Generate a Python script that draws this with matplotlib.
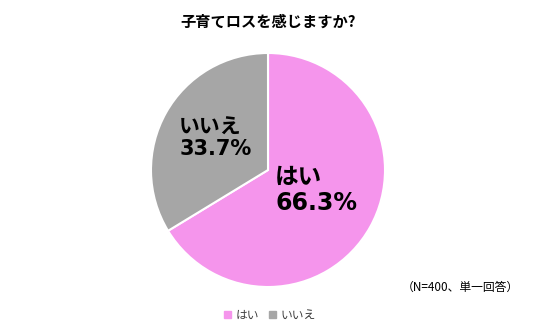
import matplotlib.pyplot as plt
from matplotlib.patches import Patch

plt.rcParams['font.family'] = ['Noto Sans CJK JP', 'DejaVu Sans']
latin_first = ['DejaVu Sans', 'Noto Sans CJK JP']

labels = ["はい", "いいえ"]
values = [66.3, 33.7]
colors = ["#F595EC", "#A6A6A6"]

W, H = 536, 335
fig = plt.figure(figsize=(W / 100, H / 100), dpi=100)

# pie centre (268,170) px, radius 117 px
cx, cy, r = 268, 170, 117
ax = fig.add_axes([(cx - r) / W, (H - cy - r) / H, 2 * r / W, 2 * r / H])
wedges, _ = ax.pie(values, colors=colors, startangle=90, counterclock=False,
                   wedgeprops=dict(edgecolor="white", linewidth=1.5))
ax.set_xlim(-1, 1)
ax.set_ylim(-1, 1)
ax.set_aspect("equal")
ax.axis("off")

# data labels
ax.text(0.06, -0.17, "{}\n{}%".format(labels[0], values[0]), fontsize=17, fontweight="bold",
        ha="left", va="center", linespacing=1.1, family=latin_first)
ax.text(-0.76, 0.27, "{}\n{}%".format(labels[1], values[1]), fontsize=15, fontweight="bold",
        ha="left", va="center", linespacing=1.1, family=latin_first)

fig.text(0.5, 1 - 22 / H, "子育てロスを感じますか?", fontsize=11, fontweight="bold",
         ha="center", va="center")
fig.text(460 / W, 1 - 287 / H, "（N=400、単一回答）", fontsize=8.5, ha="center", va="center")

handles = [Patch(color=c) for c in colors]
fig.legend(handles, labels, loc="center", bbox_to_anchor=(270 / W, 1 - 315 / H),
           ncol=2, frameon=False, fontsize=8.5, handlelength=0.6, handleheight=0.6,
           handletextpad=0.4, columnspacing=0.8, labelcolor="#404040")

fig.savefig("out.png", dpi=100)
